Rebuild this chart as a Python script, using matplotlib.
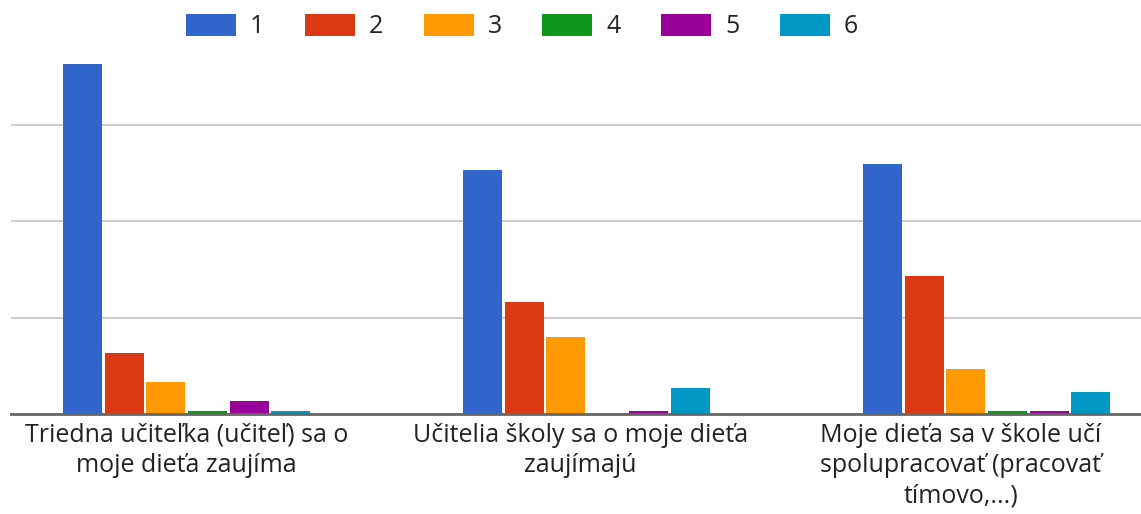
import numpy as np
import matplotlib.pyplot as plt

plt.rcParams['font.family'] = ['Open Sans', 'DejaVu Sans']

# --- Dáta ---
categories = [
    "Triedna učiteľka (učiteľ) sa o\nmoje dieťa zaujíma",
    "Učitelia školy sa o moje dieťa\nzaujímajú",
    "Moje dieťa sa v škole učí\nspolupracovať (pracovať\ntímovo,...)",
]
series_names = ["1", "2", "3", "4", "5", "6"]
values_1 = [109, 76, 78]
values_2 = [19, 35, 43]
values_3 = [10, 24, 14]
values_4 = [1, 0, 1]
values_5 = [4, 1, 1]
values_6 = [1, 8, 7]
colors = ["#3366CC", "#DC3912", "#FF9900", "#109618", "#990099", "#0099C6"]

series = [values_1, values_2, values_3, values_4, values_5, values_6]

fig = plt.figure(figsize=(11.41, 5.14), dpi=100)
ax = fig.add_axes([11 / 1141, 100 / 514, 1 - 11 / 1141, 374 / 514])

x = np.arange(len(categories))
step = 0.104
width = 0.0975
for j, (vals, name) in enumerate(zip(series, series_names)):
    ax.bar(x + (j - 2.5) * step, vals, width=width, color=colors[j],
           label=name, zorder=3)

ax.set_xlim(-0.439, 2.386)
ax.set_ylim(0, 116.5)
ax.set_yticks([30, 60, 90])
ax.yaxis.grid(True, color="#cccccc", linewidth=1.5, zorder=0)
ax.tick_params(left=False, labelleft=False, bottom=False, labelbottom=False)
for s in ["top", "right", "left"]:
    ax.spines[s].set_visible(False)
ax.spines["bottom"].set_color("#666666")
ax.spines["bottom"].set_linewidth(2)
ax.spines["bottom"].set_zorder(4)

# popisky kategórií (posledná posunutá doľava ako v origináli)
label_shift = [0.0, -0.015, -0.065]
for i, lab in enumerate(categories):
    ax.text(x[i] + label_shift[i], -2.8, lab, ha="center", va="top",
            fontsize=18, color="#222222", linespacing=1.28)

fig.legend(loc="center", bbox_to_anchor=(522 / 1141, 1 - 26.5 / 514),
           ncol=6, frameon=False, fontsize=18, handlelength=2.0,
           handleheight=0.96, handletextpad=0.56, columnspacing=1.62,
           labelcolor="#222222")

fig.savefig("out.png", dpi=100)
